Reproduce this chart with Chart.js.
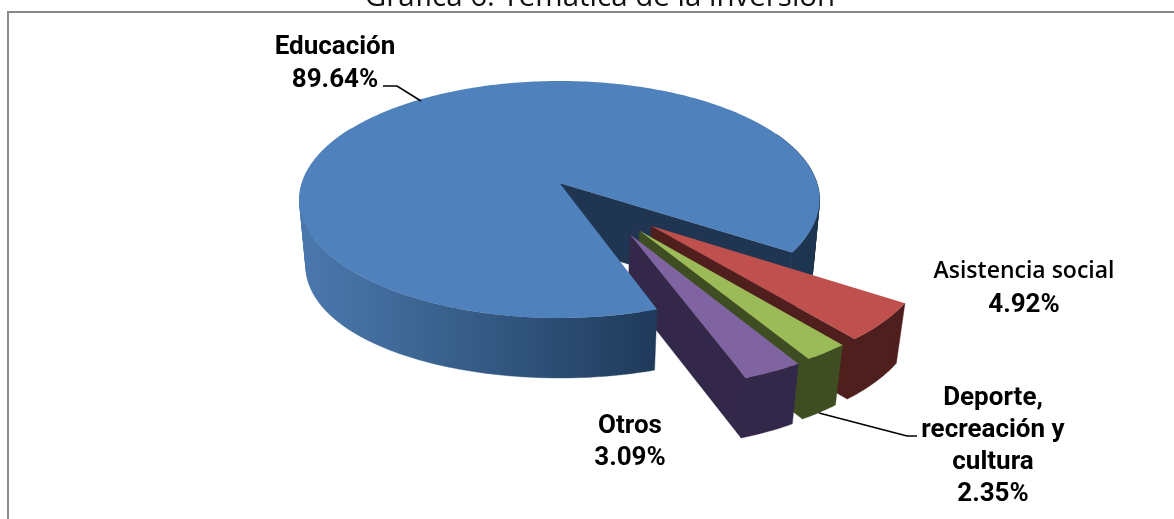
<!DOCTYPE html>
<html><head><meta charset="utf-8">
<style>html,body{margin:0;padding:0;background:#fff}canvas{display:block}</style>
<script src="https://cdn.jsdelivr.net/npm/chart.js@4/dist/chart.umd.js"></script>
</head><body>
<canvas id="c" width="1174" height="519"></canvas>
<script>
const chartTitle = 'Gráfica 6. Temática de la inversión';
const categories = ['Educación', 'Asistencia social', 'Deporte, recreación y cultura', 'Otros'];
const values = [89.64, 4.92, 2.35, 3.09];
const labelLines = [['Educación'], ['Asistencia social'], ['Deporte,', 'recreación y', 'cultura'], ['Otros']];
const topColors = ['#4F81BD', '#C0504D', '#9BBB59', '#8064A2'];
const wallColors = ['#1F3551', '#4F1F1E', '#3F4E22', '#33284A'];

// 3D projection of the unit disk (perspective tilt) and exploded slice shifts
const PX = 559.5, PY = 183, KX = 257.5, HY = 116.2, PERSP = 0.1392, DEPTH = 60, SIDE_EXTRA = 7, SHRINK = 0.975;
const explodeX = [0, 0.339, 0.294, 0.2575], explodeY = [0, 0.352, 0.388, 0.416];
const DEG = Math.PI / 180;
function proj(X, Y) { const w = 1 - PERSP * Y; return [PX + KX * X / w, PY + HY * Y / w, 0]; }
function low(p) { return [PX + (p[0] - PX) * SHRINK, p[1] + DEPTH + (p[2] || 0)]; }
function arcPts(i, a0, a1, side) {
  const pts = [], n = Math.max(2, Math.ceil(Math.abs(a1 - a0) / DEG));
  for (let k = 0; k <= n; k++) {
    const a = a0 + (a1 - a0) * k / n;
    const p = proj(explodeX[i] + Math.cos(a), explodeY[i] + Math.sin(a));
    if (side) p[2] = SIDE_EXTRA * Math.cos(a) * Math.cos(a);
    pts.push(p);
  }
  return pts;
}
function fillPoly(ctx, pts, fill) {
  ctx.beginPath();
  pts.forEach((p, i) => i ? ctx.lineTo(p[0], p[1]) : ctx.moveTo(p[0], p[1]));
  ctx.closePath(); ctx.fillStyle = fill; ctx.fill();
}
function addQuad(ctx, q) {
  let area = 0;
  q.forEach((p, i) => { const n = q[(i + 1) % 4]; area += p[0] * n[1] - n[0] * p[1]; });
  if (area < 0) q = q.slice().reverse();
  q.forEach((p, i) => i ? ctx.lineTo(p[0], p[1]) : ctx.moveTo(p[0], p[1]));
  ctx.closePath();
}
// swept wall: all segment quads in one path, wound the same way, filled once
function wall(ctx, runs, fill) {
  ctx.beginPath();
  runs.forEach(pts => {
    for (let k = 0; k + 1 < pts.length; k++) addQuad(ctx, [pts[k], pts[k + 1], low(pts[k + 1]), low(pts[k])]);
  });
  ctx.fillStyle = fill; ctx.fill();
  ctx.strokeStyle = fill; ctx.lineWidth = 0.4; ctx.stroke();
}
function drawTop(ctx, i, a0, a1) { fillPoly(ctx, [proj(explodeX[i], explodeY[i])].concat(arcPts(i, a0, a1)), topColors[i]); }
function cutLine(i, a) {
  return [proj(explodeX[i], explodeY[i]), proj(explodeX[i] + Math.cos(a), explodeY[i] + Math.sin(a))];
}

const pie3d = {
  id: 'pie3d',
  beforeDatasetDraw(chart) {
    const ctx = chart.ctx, arcs = chart.getDatasetMeta(0).data;
    ctx.save();
    const e = arcs[0], s0 = e.startAngle, e0 = e.endAngle;
    // Educación: back part (inner cut wall and right outer wall)
    wall(ctx, [cutLine(0, e0), arcPts(0, e0 - 60 * DEG, e0, true)], wallColors[0]);
    // exploded slices
    for (let i = 1; i < arcs.length; i++) {
      const a = arcs[i];
      wall(ctx, [cutLine(i, a.endAngle), arcPts(i, a.startAngle, a.endAngle)], wallColors[i]);
      drawTop(ctx, i, a.startAngle, a.endAngle);
    }
    // Educación: front outer wall and top face
    const g = ctx.createLinearGradient(305, 0, 655, 0);
    g.addColorStop(0, '#4A77AD'); g.addColorStop(0.3, '#3E6795');
    g.addColorStop(0.65, '#2E5178'); g.addColorStop(1, '#1F3A5A');
    wall(ctx, [arcPts(0, s0, Math.PI + 30 * DEG, true)], g);
    drawTop(ctx, 0, s0, e0);
    ctx.restore();
    return false;
  },
  afterDraw(chart) {
    const ctx = chart.ctx;
    ctx.save();
    // frame
    ctx.strokeStyle = '#8A8A8A'; ctx.lineWidth = 2;
    ctx.beginPath(); ctx.moveTo(8, 519); ctx.lineTo(8, 12); ctx.lineTo(1174, 12); ctx.stroke();
    // title (clipped by the top edge)
    ctx.fillStyle = '#111'; ctx.textAlign = 'center'; ctx.textBaseline = 'alphabetic';
    ctx.font = '400 29.5px "Open Sans"';
    ctx.fillText(chartTitle, 600, 6);
    // leader lines
    ctx.strokeStyle = '#000'; ctx.lineWidth = 1.6;
    ctx.beginPath(); ctx.moveTo(383, 86); ctx.lineTo(397, 86); ctx.lineTo(421, 101); ctx.stroke();
    ctx.beginPath(); ctx.moveTo(819, 413); ctx.lineTo(907, 436); ctx.lineTo(917, 436); ctx.stroke();
    // labels
    const spots = [[335, 54, 33], [1024, 278, 34], [993, 405, 32], [630, 433, 32]];
    ctx.fillStyle = '#000';
    categories.forEach((c, i) => {
      const lines = labelLines[i].concat(values[i].toFixed(2) + '%');
      lines.forEach((t, k) => {
        ctx.font = (i === 1 && k === 0) ? '600 23px "Open Sans"' : '700 26px Roboto';
        ctx.fillText(t, spots[i][0], spots[i][1] + k * spots[i][2]);
      });
    });
    ctx.restore();
  }
};

new Chart(document.getElementById('c'), {
  type: 'pie',
  data: { labels: categories, datasets: [{ data: values, backgroundColor: topColors, borderWidth: 0 }] },
  options: {
    responsive: false, animation: false, devicePixelRatio: 1, rotation: 160.8,
    plugins: { legend: { display: false }, tooltip: { enabled: false }, title: { display: false } }
  },
  plugins: [pie3d]
});
</script>
</body></html>
